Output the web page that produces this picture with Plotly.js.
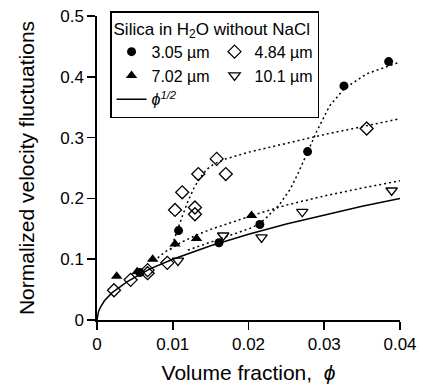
<!DOCTYPE html>
<html>
<head>
<meta charset="utf-8">
<script src="https://cdn.plot.ly/plotly-3.0.1.min.js"></script>
<style>html,body{margin:0;padding:0;background:#fff;}#chart{width:423px;height:391px;}</style>
</head>
<body>
<div id="chart"></div>
<script>
// 3.05 µm (filled circles)
var phi305 = [0.00567, 0.01077, 0.0161, 0.0215, 0.0278, 0.0326, 0.0385];
var v305   = [0.078, 0.147, 0.127, 0.157, 0.277, 0.385, 0.425];
// 4.84 µm (open diamonds)
var phi484 = [0.00224, 0.00444, 0.00668, 0.00668, 0.00928, 0.0103, 0.01125, 0.01293, 0.01293, 0.01337, 0.0158, 0.0170, 0.0356];
var v484   = [0.049, 0.066, 0.077, 0.082, 0.094, 0.181, 0.210, 0.174, 0.185, 0.240, 0.265, 0.240, 0.315];
// 7.02 µm (filled triangles)
var phi702 = [0.0026, 0.0053, 0.00735, 0.0103, 0.01314, 0.0204];
var v702   = [0.072, 0.0795, 0.0998, 0.125, 0.134, 0.172];
// 10.1 µm (open down triangles)
var phi101 = [0.01069, 0.01666, 0.02172, 0.0271, 0.0389];
var v101   = [0.0976, 0.139, 0.136, 0.178, 0.213];
// phi^1/2 curve
var phiRoot = [0, 0.0002, 0.0005, 0.001, 0.002, 0.004, 0.007, 0.01, 0.015, 0.02, 0.025, 0.03, 0.035, 0.04];
var vRoot   = [0, 0.014, 0.022, 0.032, 0.045, 0.063, 0.084, 0.1, 0.122, 0.141, 0.158, 0.173, 0.187, 0.2];
// dotted guide curves
var fit305x = [0.012, 0.015, 0.017, 0.019, 0.0205, 0.0216, 0.0225, 0.0241, 0.0255, 0.0265, 0.0278, 0.029, 0.0307, 0.0326, 0.0356, 0.0397];
var fit305y = [0.115, 0.128, 0.137, 0.145, 0.152, 0.160, 0.170, 0.190, 0.215, 0.240, 0.277, 0.310, 0.352, 0.380, 0.405, 0.423];
var fit484x = [0.0097, 0.0105, 0.0113, 0.012, 0.0128, 0.0136, 0.0145, 0.0155, 0.017, 0.02, 0.025, 0.03, 0.035, 0.04];
var fit484y = [0.115, 0.145, 0.172, 0.195, 0.217, 0.234, 0.248, 0.257, 0.265, 0.276, 0.291, 0.305, 0.318, 0.331];
var fit702x = [0.0075, 0.009, 0.011, 0.013, 0.015, 0.018, 0.021, 0.025, 0.03, 0.035, 0.04];
var fit702y = [0.097, 0.112, 0.127, 0.139, 0.149, 0.162, 0.174, 0.189, 0.204, 0.217, 0.229];

var xTicks = [0, 0.01, 0.02, 0.03, 0.04];
var xTickText = ['0', '0.01', '0.02', '0.03', '0.04'];
var yTicks = [0, 0.1, 0.2, 0.3, 0.4, 0.5];
var yTickText = ['0', '0.1', '0.2', '0.3', '0.4', '0.5'];

var dotLine = {color: '#000', width: 1.5, dash: '2px,3px'};
var traces = [
  {x: fit305x, y: fit305y, mode: 'lines', line: dotLine, showlegend: false, hoverinfo: 'skip'},
  {x: fit484x, y: fit484y, mode: 'lines', line: dotLine, showlegend: false, hoverinfo: 'skip'},
  {x: fit702x, y: fit702y, mode: 'lines', line: dotLine, showlegend: false, hoverinfo: 'skip'},
  {x: phi305, y: v305, mode: 'markers', name: '3.05 µm',
   marker: {symbol: 'circle', size: 9, color: '#000'}},
  {x: phi484, y: v484, mode: 'markers', name: '4.84 µm',
   marker: {symbol: 'diamond-open', size: 10, color: '#000', line: {width: 1.3, color: '#000'}}},
  {x: phi702, y: v702, mode: 'markers', name: '7.02 µm',
   marker: {symbol: 'triangle-up', size: 10, color: '#000'}},
  {x: phi101, y: v101, mode: 'markers', name: '10.1 µm',
   marker: {symbol: 'triangle-down-open', size: 10, color: '#000', line: {width: 1.3, color: '#000'}}},
  {x: phiRoot, y: vRoot, mode: 'lines', name: '<i>\u03d5</i><sup><i>1/2</i></sup>',
   line: {color: '#000', width: 1.5}}
];

var layout = {
  width: 423, height: 391,
  margin: {l: 97, r: 23, t: 16, b: 71, autoexpand: false},
  paper_bgcolor: '#fff', plot_bgcolor: '#fff',
  font: {family: '"Liberation Sans", Arial, sans-serif', color: '#000', size: 17},
  showlegend: true,
  xaxis: {
    range: [0, 0.04], tickvals: xTicks, ticktext: xTickText,
    showgrid: false, zeroline: false, showline: true, linecolor: '#000', linewidth: 1.6,
    ticks: 'outside', ticklen: 8, tickwidth: 1.6, tickcolor: '#000',
    tickfont: {size: 17},
    title: {text: 'Volume fraction,\u00a0 <i>\u03d5</i>', font: {size: 21}, standoff: 12}
  },
  yaxis: {
    range: [0, 0.5], tickvals: yTicks, ticktext: yTickText,
    showgrid: false, zeroline: false, showline: true, linecolor: '#000', linewidth: 1.6,
    ticks: 'outside', ticklen: 8, tickwidth: 1.6, tickcolor: '#000',
    tickfont: {size: 17},
    title: {text: 'Normalized velocity fluctuations', font: {size: 21}, standoff: 20}
  },
  legend: {
    x: 0.043, y: 1.016, xanchor: 'left', yanchor: 'top',
    orientation: 'h', entrywidth: 58, entrywidthmode: 'pixels',
    bgcolor: '#fff', bordercolor: '#000', borderwidth: 1.5,
    font: {size: 16}, tracegroupgap: 0, itemwidth: 30,
    title: {text: 'Silica in H<sub>2</sub>O without NaCl', font: {size: 17}, side: 'top'}
  }
};

Plotly.newPlot('chart', traces, layout, {staticPlot: true, displayModeBar: false});
</script>
</body>
</html>
